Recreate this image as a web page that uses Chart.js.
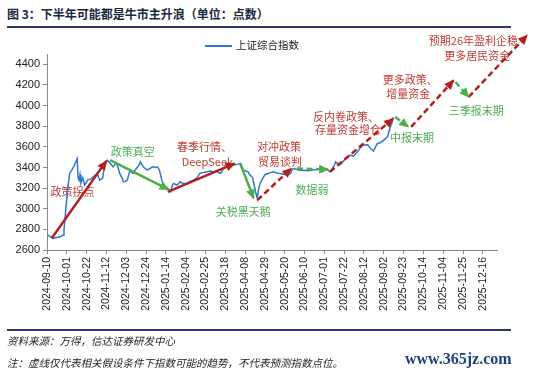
<!DOCTYPE html>
<html>
<head>
<meta charset="utf-8">
<script src="https://cdn.jsdelivr.net/npm/chart.js@4/dist/chart.umd.min.js"></script>
<style>
body { margin: 0; width: 550px; height: 374px; background: #fff; position: relative; overflow: hidden; font-family: "Noto Sans CJK SC", sans-serif; }
#title { position: absolute; left: 7px; top: 6px; font-size: 12px; line-height: 16px; font-weight: bold; color: #1b2640; white-space: nowrap; }
.rule { position: absolute; left: 7px; width: 504px; height: 1.5px; background: #2c3b66; }
#chart { position: absolute; left: 0; top: 30px; }
#legend { position: absolute; left: 205px; top: 37px; font-size: 10.5px; line-height: 15px; color: #222; white-space: nowrap; }
#legend span.swatch { display: inline-block; width: 27px; height: 1.5px; background: #2f77cf; vertical-align: middle; margin-right: 4px; }
.foot { position: absolute; left: 7px; font-size: 10.5px; line-height: 15px; color: #222; white-space: nowrap; font-style: italic; }
#mark { position: absolute; left: 405px; top: 350px; font-family: "Liberation Serif", serif; font-weight: bold; font-size: 16px; color: #1f3f7a; }
</style>
</head>
<body>
<div id="title">图 3：下半年可能都是牛市主升浪（单位：点数）</div>
<div class="rule" style="top:26px"></div>
<canvas id="chart" width="550" height="300"></canvas>
<div id="legend"><span class="swatch"></span>上证综合指数</div>
<div class="rule" style="top:329px"></div>
<div class="foot" style="top:333px">资料来源：万得，信达证券研发中心</div>
<div class="foot" style="top:355px">注：虚线仅代表相关假设条件下指数可能的趋势，不代表预测指数点位。</div>
<div id="mark">www.365jz.com</div>
<script>
var tickLabels = ['2024-09-10', '2024-10-01', '2024-10-22', '2024-11-12', '2024-12-03', '2024-12-24',
  '2025-01-14', '2025-02-04', '2025-02-25', '2025-03-18', '2025-04-08', '2025-04-29', '2025-05-20',
  '2025-06-10', '2025-07-01', '2025-07-22', '2025-08-12', '2025-09-02', '2025-09-23', '2025-10-14',
  '2025-11-04', '2025-11-25', '2025-12-16'];

var dates = ['2024-09-10', '2024-09-13', '2024-09-16', '2024-09-20', '2024-09-24', '2024-09-27', '2024-09-28',
  '2024-09-30', '2024-10-02', '2024-10-04', '2024-10-08', '2024-10-12', '2024-10-13', '2024-10-14', '2024-10-15',
  '2024-10-16', '2024-10-18', '2024-10-20', '2024-10-22', '2024-10-23', '2024-10-26', '2024-10-29', '2024-11-02',
  '2024-11-05', '2024-11-08', '2024-11-10', '2024-11-12', '2024-11-13', '2024-11-16', '2024-11-19', '2024-11-21',
  '2024-11-23', '2024-11-25', '2024-11-26', '2024-11-29', '2024-11-30', '2024-12-02', '2024-12-04', '2024-12-06',
  '2024-12-07', '2024-12-09', '2024-12-10', '2024-12-13', '2024-12-17', '2024-12-18', '2024-12-20', '2024-12-21',
  '2024-12-23', '2024-12-25', '2024-12-28', '2024-12-31', '2025-01-03', '2025-01-05', '2025-01-07', '2025-01-08',
  '2025-01-10', '2025-01-11', '2025-01-13', '2025-01-16', '2025-01-19', '2025-01-21', '2025-01-22', '2025-01-26',
  '2025-01-29', '2025-02-01', '2025-02-06', '2025-02-09', '2025-02-12', '2025-02-16', '2025-02-19', '2025-02-22',
  '2025-02-27', '2025-03-02', '2025-03-05', '2025-03-09', '2025-03-13', '2025-03-16', '2025-03-20', '2025-03-23',
  '2025-03-26', '2025-03-31', '2025-04-03', '2025-04-04', '2025-04-05', '2025-04-08', '2025-04-11', '2025-04-13',
  '2025-04-16', '2025-04-18', '2025-04-19', '2025-04-21', '2025-04-22', '2025-04-24', '2025-04-27', '2025-04-29',
  '2025-05-05', '2025-05-08', '2025-05-12', '2025-05-15', '2025-05-21', '2025-05-26', '2025-05-28', '2025-05-29',
  '2025-06-02', '2025-06-05', '2025-06-09', '2025-06-13', '2025-06-16', '2025-06-19', '2025-06-24', '2025-06-27',
  '2025-06-30', '2025-07-03', '2025-07-07', '2025-07-11', '2025-07-13', '2025-07-15', '2025-07-18', '2025-07-22',
  '2025-07-25', '2025-07-29', '2025-08-01', '2025-08-05', '2025-08-08', '2025-08-11', '2025-08-16', '2025-08-19',
  '2025-08-22', '2025-08-26', '2025-08-29', '2025-09-02', '2025-09-06', '2025-09-09', '2025-09-11', '2025-09-12'];

var closeValues = [2745, 2735, 2713, 2722, 2728, 2745, 2794,
  3000, 3200, 3342, 3400, 3487, 3300, 3277, 3330,
  3250, 3300, 3229, 3260, 3277, 3287, 3310, 3342,
  3277, 3297, 3420, 3455, 3470, 3440, 3406, 3430,
  3439, 3380, 3342, 3290, 3261, 3265, 3277, 3340,
  3374, 3350, 3342, 3380, 3430, 3455, 3420, 3406,
  3390, 3374, 3390, 3406, 3400, 3406, 3380, 3342,
  3270, 3245, 3213, 3200, 3164, 3230, 3245, 3229,
  3261, 3245, 3245, 3265, 3277, 3300, 3342, 3350,
  3358, 3365, 3358, 3360, 3342, 3390, 3406, 3410,
  3422, 3430, 3439, 3400, 3374, 3370, 3358, 3330,
  3300, 3213, 3164, 3100, 3180, 3250, 3300, 3330,
  3350, 3358, 3345, 3342, 3330, 3340, 3380, 3390,
  3381, 3374, 3374, 3368, 3370, 3378, 3380, 3400,
  3390, 3385, 3358, 3410, 3455, 3440, 3430, 3470,
  3503, 3520, 3510, 3552, 3590, 3616, 3620, 3584,
  3560, 3632, 3640, 3665, 3700, 3794, 3842, 3887];

// trend arrows: up = red, down = green, dashed = assumed path
var arrows = [
  {from: ['2024-09-15', 2713], to: ['2024-11-12', 3464], tone: 'up', dashed: false},
  {from: ['2024-11-16', 3471], to: ['2025-01-17', 3185], tone: 'down', dashed: false},
  {from: ['2025-01-16', 3164], to: ['2025-03-28', 3440], tone: 'up', dashed: false},
  {from: ['2025-04-03', 3439], to: ['2025-04-17', 3100], tone: 'down', dashed: false},
  {from: ['2025-04-21', 3084], to: ['2025-05-27', 3391], tone: 'up', dashed: true},
  {from: ['2025-06-02', 3391], to: ['2025-07-05', 3381], tone: 'down', dashed: true},
  {from: ['2025-07-07', 3358], to: ['2025-09-12', 3874], tone: 'up', dashed: true},
  {from: ['2025-09-14', 3890], to: ['2025-09-28', 3793], tone: 'down', dashed: true},
  {from: ['2025-10-01', 3793], to: ['2025-11-15', 4245], tone: 'up', dashed: true},
  {from: ['2025-11-17', 4229], to: ['2025-12-01', 4084], tone: 'down', dashed: true},
  {from: ['2025-12-01', 4084], to: ['2026-02-01', 4681], tone: 'up', dashed: true}
];

var notes = [
  {text: '政策拐点', date: '2024-10-07', value: 3161, tone: 'up'},
  {text: '政策真空', date: '2024-12-10', value: 3548, tone: 'down'},
  {text: '春季行情、', date: '2025-02-24', value: 3597, tone: 'up'},
  {text: 'DeepSeek', date: '2025-02-27', value: 3452, tone: 'up'},
  {text: '关税黑天鹅', date: '2025-04-06', value: 2968, tone: 'down'},
  {text: '对冲政策', date: '2025-05-14', value: 3597, tone: 'up'},
  {text: '贸易谈判', date: '2025-05-15', value: 3452, tone: 'up'},
  {text: '数据弱', date: '2025-06-18', value: 3181, tone: 'down'},
  {text: '反内卷政策、', date: '2025-07-24', value: 3887, tone: 'up'},
  {text: '存量资金增仓', date: '2025-07-26', value: 3761, tone: 'up'},
  {text: '中报末期', date: '2025-10-02', value: 3684, tone: 'down'},
  {text: '更多政策、', date: '2025-09-30', value: 4245, tone: 'up'},
  {text: '增量资金', date: '2025-09-28', value: 4110, tone: 'up'},
  {text: '三季报末期', date: '2025-12-09', value: 3945, tone: 'down'},
  {text: '预期26年盈利企稳', date: '2025-12-06', value: 4632, tone: 'up'},
  {text: '更多居民资金', date: '2025-12-10', value: 4487, tone: 'up'}
];

var yTicks = [2600, 2800, 3000, 3200, 3400, 3600, 3800, 4000, 4200, 4400];

function dayOf(s) {
  var p = s.split('-');
  return (Date.UTC(+p[0], p[1] - 1, +p[2]) - Date.UTC(2024, 8, 10)) / 86400000;
}

var RED = '#b3201c', GREEN = '#4cae4c';
var RED_TEXT = '#c33a34', GREEN_TEXT = '#4fae55';

var datasets = [];
for (var i = 0; i < arrows.length; i++) {
  var a = arrows[i];
  datasets.push({
    label: 'arrow' + i,
    data: [{x: dayOf(a.from[0]), y: a.from[1]}, {x: dayOf(a.to[0]), y: a.to[1]}],
    borderColor: a.tone == 'up' ? RED : GREEN,
    borderWidth: 2.5,
    borderDash: a.dashed ? [6, 3.5] : [],
    pointRadius: 0,
    clip: false,
    arrow: true,
    order: 0
  });
}
datasets.push({
  label: '上证综合指数',
  data: dates.map(function(d, i) { return {x: dayOf(d), y: closeValues[i]}; }),
  borderColor: '#2f77cf',
  borderWidth: 1.5,
  pointRadius: 0,
  order: 1
});

var arrowHeads = {
  id: 'arrowHeads',
  afterDatasetsDraw: function(chart) {
    var ctx = chart.ctx;
    chart.data.datasets.forEach(function(ds, i) {
      if (!ds.arrow) return;
      var pts = chart.getDatasetMeta(i).data;
      var p0 = pts[0], p1 = pts[1];
      var ang = Math.atan2(p1.y - p0.y, p1.x - p0.x);
      ctx.save();
      ctx.translate(p1.x, p1.y);
      ctx.rotate(ang);
      ctx.beginPath();
      ctx.moveTo(1, 0);
      ctx.lineTo(-9, -4.5);
      ctx.lineTo(-9, 4.5);
      ctx.closePath();
      ctx.fillStyle = ds.borderColor;
      ctx.fill();
      ctx.restore();
    });
  }
};

var noteLabels = {
  id: 'noteLabels',
  beforeDatasetsDraw: function(chart) {
    var ctx = chart.ctx;
    var xs = chart.scales.x, ys = chart.scales.y;
    ctx.save();
    ctx.font = '11px "Noto Sans CJK SC"';
    ctx.textAlign = 'center';
    ctx.textBaseline = 'middle';
    notes.forEach(function(n) {
      ctx.fillStyle = n.tone == 'up' ? RED_TEXT : GREEN_TEXT;
      ctx.fillText(n.text, xs.getPixelForValue(dayOf(n.date)), ys.getPixelForValue(n.value));
    });
    ctx.restore();
  }
};

new Chart(document.getElementById('chart').getContext('2d'), {
  type: 'line',
  data: {datasets: datasets},
  options: {
    responsive: false,
    animation: false,
    layout: {padding: {top: 24, right: 53, left: 0, bottom: 0}},
    plugins: {legend: {display: false}, tooltip: {enabled: false}},
    scales: {
      x: {
        type: 'linear',
        min: 0,
        max: dayOf('2025-12-31'),
        afterBuildTicks: function(s) { s.ticks = tickLabels.map(function(t) { return {value: dayOf(t)}; }); },
        afterFit: function(s) { s.height = 80; },
        ticks: {
          autoSkip: false, maxRotation: 90, minRotation: 90, padding: 3, color: '#222',
          font: {family: '"Liberation Sans", Arial', size: 10.5},
          callback: function(v, i) { return tickLabels[i]; }
        },
        grid: {drawOnChartArea: false, tickLength: 4, color: '#888'},
        border: {color: '#888'}
      },
      y: {
        min: 2600,
        max: 4500,
        afterBuildTicks: function(s) { s.ticks = yTicks.map(function(v) { return {value: v}; }); },
        afterFit: function(s) { s.width = 47; },
        ticks: {
          padding: 3, color: '#222',
          font: {family: '"Liberation Sans", Arial', size: 11},
          callback: function(v) { return String(v); }
        },
        grid: {drawOnChartArea: false, tickLength: 4, color: '#888'},
        border: {color: '#888'}
      }
    }
  },
  plugins: [noteLabels, arrowHeads]
});
</script>
</body>
</html>
